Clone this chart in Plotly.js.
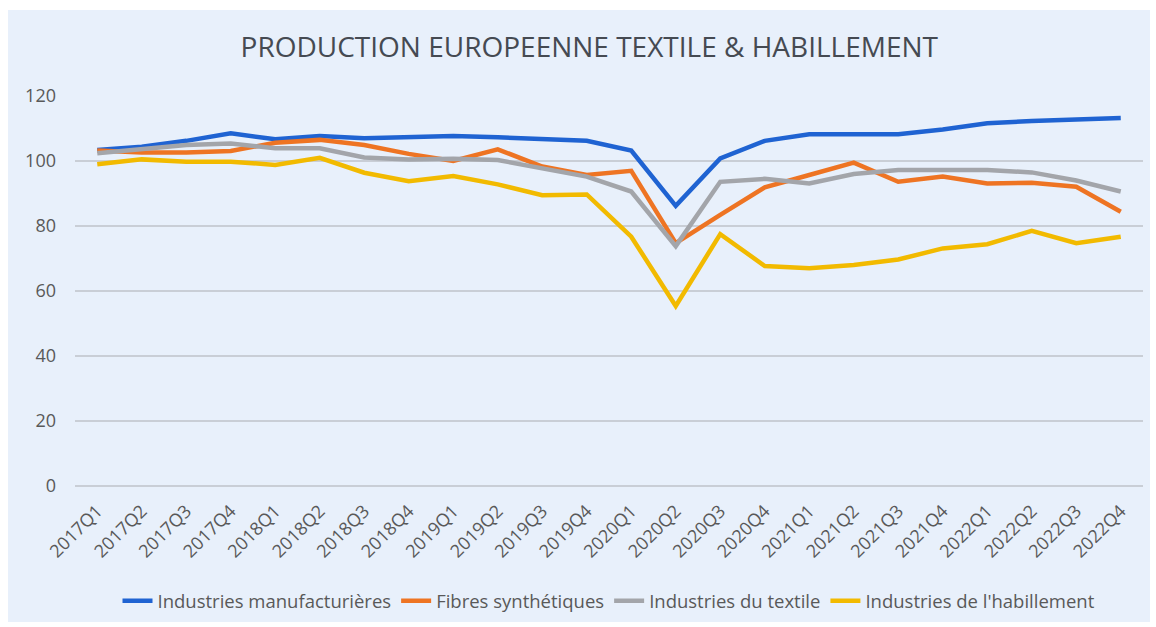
<!DOCTYPE html>
<html>
<head>
<meta charset="utf-8">
<script src="https://cdn.plot.ly/plotly-3.0.1.min.js"></script>
<style>
  html, body { margin: 0; padding: 0; background: #ffffff; }
  #chart { position: absolute; left: 8px; top: 10px; width: 1142px; height: 612px; }
</style>
</head>
<body>
<div id="chart"></div>
<script>
const quarters = ["2017Q1","2017Q2","2017Q3","2017Q4","2018Q1","2018Q2","2018Q3","2018Q4",
  "2019Q1","2019Q2","2019Q3","2019Q4","2020Q1","2020Q2","2020Q3","2020Q4",
  "2021Q1","2021Q2","2021Q3","2021Q4","2022Q1","2022Q2","2022Q3","2022Q4"];

const manufacturieres = [103.4,104.4,106.2,108.5,106.7,107.7,107.0,107.2,
  107.7,107.3,106.7,106.2,103.2,86.2,100.8,106.2,
  108.2,108.2,108.2,109.7,111.6,112.3,112.9,113.2];

const fibres = [103.2,102.6,102.6,103.1,105.6,106.5,104.9,102.2,
  100.0,103.6,98.3,95.7,97.0,74.7,83.4,91.9,
  95.7,99.5,93.6,95.2,93.1,93.3,92.1,84.4];

const textile = [102.4,103.7,104.9,105.4,103.9,103.9,101.1,100.5,
  100.7,100.3,97.7,95.2,90.6,73.8,93.6,94.5,
  93.1,96.0,97.2,97.2,97.2,96.5,94.0,90.6];

const habillement = [99.0,100.5,99.8,99.8,98.8,101.0,96.4,93.8,
  95.4,92.8,89.5,89.7,76.7,55.4,77.5,67.7,
  67.0,68.0,69.7,73.1,74.4,78.5,74.7,76.7];

const seriesNames = ["Industries manufacturières","Fibres synthétiques","Industries du textile","Industries de l'habillement"];
const seriesData = [manufacturieres, fibres, textile, habillement];
const seriesColors = ["#1f63d2","#ee7423","#a3a5aa","#f2ba00"];

const traces = seriesData.map((vals, i) => ({
  type: "scatter",
  mode: "lines",
  name: seriesNames[i],
  x: quarters,
  y: vals,
  line: { color: seriesColors[i], width: 4.5 }
}));

const font = "'Open Sans', 'Noto Sans', sans-serif";

const layout = {
  paper_bgcolor: "#e8f0fb",
  plot_bgcolor: "rgba(0,0,0,0)",
  width: 1142,
  height: 612,
  margin: { l: 67, r: 7, t: 86, b: 136, autoexpand: false },
  font: { family: font, color: "#595959" },
  title: {
    text: "PRODUCTION EUROPEENNE TEXTILE &amp; HABILLEMENT",
    font: { family: font, size: 28, color: "#454a52" },
    x: 0.509, xref: "container", xanchor: "center",
    y: 0.94, yref: "container", yanchor: "middle"
  },
  xaxis: {
    type: "category",
    range: [-0.5, 23.5],
    tickangle: -45,
    tickfont: { size: 18, color: "#595959" },
    showgrid: false,
    zeroline: false,
    showline: false,
    ticks: "",
    automargin: false,
    ticklabelstandoff: 10
  },
  yaxis: {
    range: [0, 120],
    dtick: 20,
    tickfont: { size: 18, color: "#595959" },
    gridcolor: "#c9ced6",
    gridwidth: 1.2,
    zeroline: true,
    zerolinecolor: "#c9ced6",
    zerolinewidth: 1.2,
    showline: false,
    ticks: "",
    automargin: false,
    ticklabelstandoff: 18
  },
  legend: {
    orientation: "h",
    x: 0.5, xanchor: "center",
    y: 0.034, yref: "container", yanchor: "middle",
    font: { size: 18.5, color: "#595959" },
    bgcolor: "rgba(0,0,0,0)",
    itemwidth: 30,
    tracegroupgap: 0
  },
  showlegend: true
};

Plotly.newPlot("chart", traces, layout, { displayModeBar: false, staticPlot: true });
</script>
</body>
</html>
